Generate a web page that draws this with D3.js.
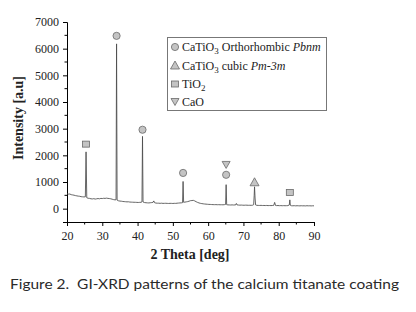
<!DOCTYPE html>
<html><head><meta charset="utf-8">
<script src="https://cdn.jsdelivr.net/npm/d3@7"></script>
<style>html,body{margin:0;padding:0;background:#fff;}svg{display:block;}</style>
</head><body>
<svg id="c" width="416" height="312"></svg>
<script>
// ---- data ----
const twoTheta = [20.0,20.4,20.8,21.2,21.6,22.0,22.4,22.8,23.2,23.6,24.0,24.4,24.8,25.2,25.4,25.6,26.0,26.4,26.8,27.2,27.6,28.0,28.4,28.8,29.2,29.6,30.0,30.4,30.8,31.2,31.6,32.0,32.4,32.8,33.2,33.6,33.9,34.05,34.2,34.6,35.0,35.4,35.8,36.2,36.6,37.0,37.4,37.8,38.2,38.6,39.0,39.4,39.8,40.2,40.6,41.0,41.25,41.4,41.55,42.0,42.4,42.8,43.2,43.6,44.0,44.4,44.6,44.8,45.2,45.6,46.0,46.4,46.8,47.2,47.6,48.0,48.4,48.8,49.2,49.6,50.0,50.4,50.8,51.2,51.6,52.0,52.4,52.75,52.9,53.05,53.4,53.8,54.2,54.6,55.0,55.4,55.8,56.2,56.6,57.0,57.4,57.8,58.2,58.6,59.0,59.4,59.8,60.2,60.6,61.0,61.4,61.8,62.2,62.6,63.0,63.4,63.8,64.2,64.6,64.95,65.1,65.25,65.6,66.0,66.4,66.8,67.2,67.6,67.9,68.0,68.2,68.6,69.0,69.4,69.8,70.2,70.6,71.0,71.4,71.8,72.2,72.6,72.9,73.05,73.15,73.3,73.45,73.8,74.2,74.6,75.0,75.4,75.8,76.2,76.6,77.0,77.4,77.8,78.2,78.6,78.85,79.1,79.4,79.8,80.2,80.6,81.0,81.4,81.8,82.2,82.6,83.0,83.15,83.3,83.6,84.0,84.4,84.8,85.2,85.6,86.0,86.4,86.8,87.2,87.6,88.0,88.4,88.8,89.2,89.6,90.0];
const intensity = [560,545,550,525,515,505,490,480,470,465,450,445,440,445,2130,410,390,385,370,365,375,360,370,380,370,385,380,390,385,395,385,380,370,355,340,330,335,6180,320,295,285,280,270,265,260,255,258,248,245,242,240,238,235,232,236,240,255,2710,250,228,222,218,215,222,228,240,290,225,210,205,205,200,205,198,200,202,198,195,200,198,195,200,198,205,210,215,218,225,1020,240,245,255,265,280,300,305,312,290,260,235,215,200,190,182,175,170,165,160,158,155,152,150,152,148,150,146,148,145,150,160,900,150,142,140,138,142,138,140,150,195,142,135,132,135,130,128,132,130,126,128,125,130,150,500,820,400,140,125,122,120,124,118,120,117,120,115,118,116,118,125,235,120,115,118,112,115,110,114,110,112,115,140,330,125,110,108,112,106,110,108,105,110,106,108,104,110,106,108,104,108,106];

const markerTheta = [25.4, 34.05, 41.4, 52.9, 65.1, 65.1, 73.15, 83.15];
const markerValue = [2420, 6480, 2960, 1340, 1270, 1640, 990, 610];
const markerPhase = ["TiO2", "ortho", "ortho", "ortho", "ortho", "CaO", "cubic", "TiO2"];

const legendPhases = ["ortho", "cubic", "TiO2", "CaO"];
const xTicks = [20,30,40,50,60,70,80,90];
const yTicks = [0,1000,2000,3000,4000,5000,6000,7000];

// ---- drawing ----
const svg = d3.select("#c");
const serif = "'Liberation Serif','DejaVu Serif',serif";
const x = d3.scaleLinear().domain([20, 90]).range([67, 314]);
const y = d3.scaleLinear().domain([-500, 7000]).range([222, 22]);

// axes
const xAxis = d3.axisBottom(x).tickValues(xTicks).tickSize(4).tickFormat(d3.format("d"));
const gx = svg.append("g").attr("transform", "translate(0,222)").call(xAxis);
gx.append("g").selectAll("line").data(d3.range(25, 90, 10)).join("line")
  .attr("x1", d => x(d)).attr("x2", d => x(d)).attr("y1", 0).attr("y2", 2.5).attr("stroke", "#000");

const yAxis = d3.axisLeft(y).tickValues(yTicks).tickSize(4).tickFormat(d3.format("d"));
const gy = svg.append("g").attr("transform", "translate(67,0)").call(yAxis);
gy.append("g").selectAll("line").data(d3.range(500, 7000, 1000)).join("line")
  .attr("y1", d => y(d)).attr("y2", d => y(d)).attr("x1", 0).attr("x2", -2.5).attr("stroke", "#000");

[gx, gy].forEach(g => {
  g.select(".domain").attr("stroke", "#000").attr("stroke-width", 1);
  g.selectAll("text").attr("font-family", serif).attr("font-size", 12).attr("fill", "#222");
});
gx.selectAll(".tick text").attr("dy", "0.9em");
gy.selectAll(".tick text").attr("dx", "-1px");

// trace
const pts = twoTheta.map((t, i) => [t, intensity[i]]);
svg.append("path").datum(pts)
  .attr("d", d3.line().x(d => x(d[0])).y(d => y(d[1])))
  .attr("fill", "none").attr("stroke", "#4a4a4a").attr("stroke-width", 0.85).attr("stroke-linejoin", "round");

// markers
const fillC = "#c4c4c4", strokeC = "#6a6a6a";
function drawSymbol(g, phase, cx, cy) {
  if (phase === "ortho") {
    g.append("circle").attr("cx", cx).attr("cy", cy).attr("r", 3.6);
  } else if (phase === "TiO2") {
    g.append("rect").attr("x", cx - 3.5).attr("y", cy - 3).attr("width", 7).attr("height", 6);
  } else if (phase === "cubic") {
    g.append("path").attr("d", `M${cx},${cy - 4.5}L${cx + 4.5},${cy + 3.5}L${cx - 4.5},${cy + 3.5}Z`);
  } else if (phase === "CaO") {
    g.append("path").attr("d", `M${cx - 4},${cy - 3.5}L${cx + 4},${cy - 3.5}L${cx},${cy + 3.5}Z`);
  }
}
const gm = svg.append("g").attr("fill", fillC).attr("stroke", strokeC).attr("stroke-width", 0.8);
markerTheta.forEach((t, i) => drawSymbol(gm, markerPhase[i], x(t), y(markerValue[i])));

// legend
const lg = svg.append("g");
lg.append("rect").attr("x", 167.5).attr("y", 37.5).attr("width", 159).attr("height", 73)
  .attr("fill", "#fff").attr("stroke", "#777").attr("stroke-width", 1);
const rowsY = [47, 65.5, 84, 102];
const gls = lg.append("g").attr("fill", fillC).attr("stroke", strokeC).attr("stroke-width", 0.8);
legendPhases.forEach((p, i) => drawSymbol(gls, p, 175, rowsY[i]));
const lt = lg.append("g").attr("font-family", serif).attr("font-size", 12).attr("fill", "#222");
function addLabel(i, parts) {
  const t = lt.append("text").attr("x", 182).attr("y", rowsY[i] + 4);
  parts.forEach(([s, style]) => {
    const ts = t.append("tspan").text(s);
    if (style === "sub") ts.attr("font-size", 9).attr("dy", 3);
    if (style === "back") ts.attr("dy", -3);
    if (style === "it") ts.attr("font-style", "italic");
  });
}
addLabel(0, [["CaTiO"], ["3", "sub"], [" Orthorhombic ", "back"], ["Pbnm", "it"]]);
addLabel(1, [["CaTiO"], ["3", "sub"], [" cubic ", "back"], ["Pm-3m", "it"]]);
addLabel(2, [["TiO"], ["2", "sub"]]);
addLabel(3, [["CaO"]]);

// axis titles
svg.append("text").attr("x", 190).attr("y", 259).attr("text-anchor", "middle")
  .attr("font-family", serif).attr("font-weight", "bold").attr("font-size", 14).attr("fill", "#222")
  .text("2 Theta [deg]");
svg.append("text").attr("transform", "translate(23,118) rotate(-90)").attr("text-anchor", "middle")
  .attr("font-family", serif).attr("font-weight", "bold").attr("font-size", 14).attr("fill", "#222")
  .text("Intensity [a.u]");

// caption
svg.append("text").attr("x", 10).attr("y", 289).style("white-space", "pre")
  .attr("font-family", "Lato, 'Open Sans', sans-serif").attr("font-size", 14).attr("fill", "#2a2a2a")
  .attr("textLength", 389).attr("lengthAdjust", "spacingAndGlyphs")
  .text("Figure 2.  GI-XRD patterns of the calcium titanate coating");
</script>
</body></html>
